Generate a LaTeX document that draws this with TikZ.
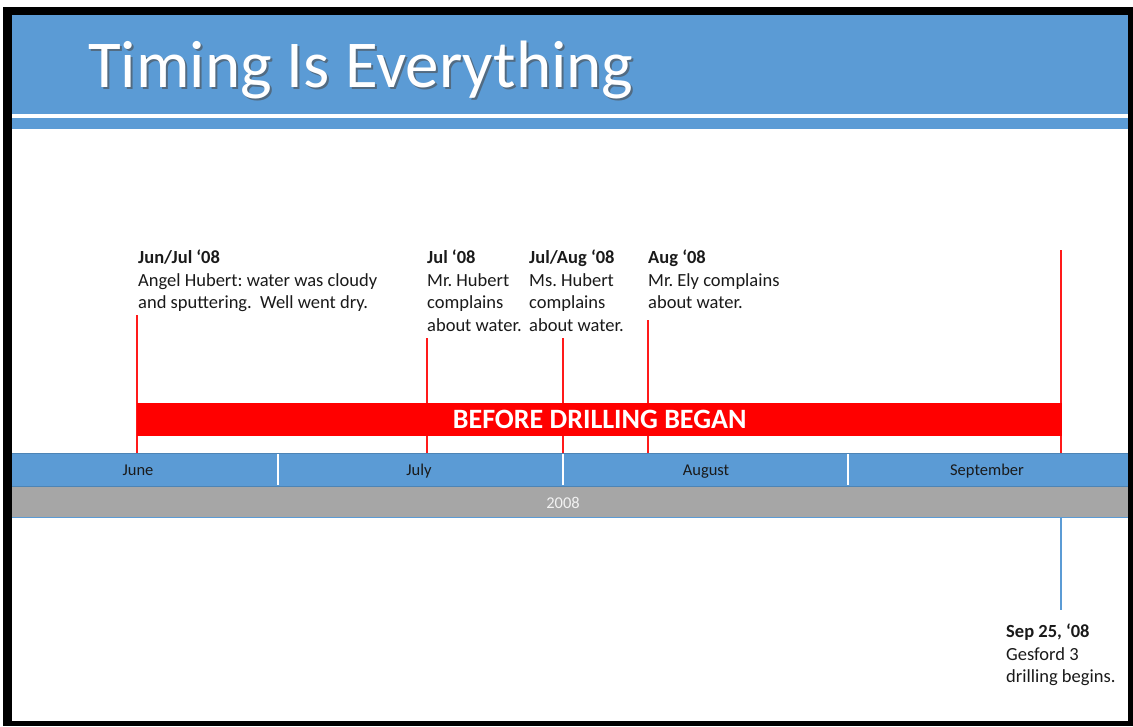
\documentclass[tikz,border=0pt]{standalone}
\usepackage{fontspec}
\setmainfont{Carlito}
\frenchspacing
\definecolor{hdrblue}{HTML}{5B9BD5}
\definecolor{bargray}{HTML}{A6A6A6}
\definecolor{linered}{HTML}{FF1A1A}
\definecolor{txtdark}{HTML}{1A1A1A}
\begin{document}
\begin{tikzpicture}[x=1pt,y=-1pt,
  evtext/.style={anchor=north west, inner sep=0pt, align=left, text=txtdark,
    font=\fontsize{18.5}{22.5}\selectfont},
  monthlbl/.style={anchor=base, inner sep=0pt, text=txtdark, font=\fontsize{16.5}{18}\selectfont},
  redline/.style={draw=linered, line width=1.2pt},
  blueline/.style={draw=hdrblue, line width=1.2pt},
  monthsep/.style={draw=white, line width=1.2pt}]
\useasboundingbox (0,0) rectangle (1133,726);
\fill[white] (0,0) rectangle (1133,726);
\fill[black] (3,7) rectangle (1133,726);
\fill[white] (12,15) rectangle (1128,721);
% header
\fill[hdrblue] (12,15) rectangle (1128,114);
\fill[hdrblue] (12,118) rectangle (1128,129);
\node[anchor=base west, inner sep=0pt, text=black!70, opacity=0.6,
  font=\fontsize{67}{70}\selectfont] (titleshadow) at (90,89) {Timing Is Everything};
\node[anchor=base west, inner sep=0pt, text=white,
  font=\fontsize{67}{70}\selectfont] (title) at (88,87) {Timing Is Everything};
% month bar
\fill[hdrblue] (12,453) rectangle (1128,486);
\draw[hdrblue!85!black, line width=0.6pt] (12,453) -- (1128,453);
\coordinate (s1t) at (278,454); \coordinate (s1b) at (278,485);
\coordinate (s2t) at (563,454); \coordinate (s2b) at (563,485);
\coordinate (s3t) at (848,454); \coordinate (s3b) at (848,485);
\draw[monthsep] (s1t) -- (s1b);
\draw[monthsep] (s2t) -- (s2b);
\draw[monthsep] (s3t) -- (s3b);
\fill[bargray] (12,486) rectangle (1128,517);
\draw[hdrblue!85!black, line width=0.6pt] (12,486) -- (1128,486);
\draw[hdrblue, line width=1pt] (12,517) -- (1128,517);
\node[monthlbl] (june) at (138,475) {June};
\node[monthlbl] (july) at (419,475) {July};
\node[monthlbl] (aug) at (706,475) {August};
\node[monthlbl] (sep) at (987,475) {September};
\node[monthlbl, text=white!95!black] (year) at (563,508) {2008};
% red vertical lines
\coordinate (r1t) at (137,315); \coordinate (r1b) at (137,453);
\coordinate (r2t) at (427,338); \coordinate (r2b) at (427,453);
\coordinate (r3t) at (563,338); \coordinate (r3b) at (563,453);
\coordinate (r4t) at (648,320); \coordinate (r4b) at (648,453);
\coordinate (r5t) at (1061,250); \coordinate (r5b) at (1061,453);
\draw[redline] (r1t) -- (r1b);
\draw[redline] (r2t) -- (r2b);
\draw[redline] (r3t) -- (r3b);
\draw[redline] (r4t) -- (r4b);
\draw[redline] (r5t) -- (r5b);
% red bar
\node[anchor=north west, fill=red, inner sep=0pt, minimum width=925pt, minimum height=33pt,
  text=white, font=\bfseries\fontsize{28}{30}\selectfont] (before) at (137,403) {BEFORE DRILLING BEGAN};
% blue line below
\coordinate (b1t) at (1061,517); \coordinate (b1b) at (1061,610);
\draw[blueline] (b1t) -- (b1b);
% event texts
\node[evtext] (ev1) at (138,250) {\textbf{Jun/Jul ‘08}\\Angel Hubert: water was cloudy\\and sputtering.\ \ Well went dry.};
\node[evtext] (ev2) at (427,250) {\textbf{Jul ‘08}\\Mr. Hubert\\complains\\about water.};
\node[evtext] (ev3) at (529,250) {\textbf{Jul/Aug ‘08}\\Ms. Hubert\\complains\\about water.};
\node[evtext] (ev4) at (648,250) {\textbf{Aug ‘08}\\Mr. Ely complains\\about water.};
\node[evtext] (ev5) at (1006,624) {\textbf{Sep 25, ‘08}\\Gesford 3\\drilling begins.};
\end{tikzpicture}
\end{document}
